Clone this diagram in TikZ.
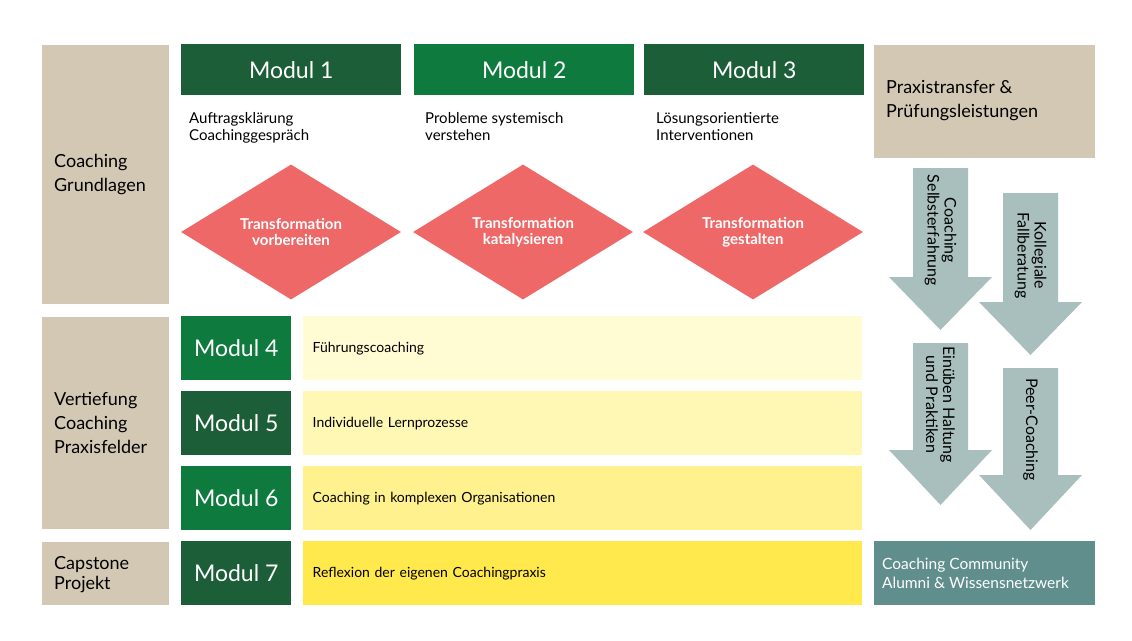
\documentclass[tikz,border=0pt]{standalone}
\usepackage{fontspec}
\setmainfont{Lato}
\usetikzlibrary{positioning,shapes.geometric}
\definecolor{beige}{HTML}{D3C8B3}
\definecolor{darkgreen}{HTML}{1B5E38}
\definecolor{midgreen}{HTML}{0E7A3E}
\definecolor{salmon}{HTML}{EE6868}
\definecolor{arrowgray}{HTML}{A9BFBE}
\definecolor{teal}{HTML}{5F8E8C}
\definecolor{yelA}{HTML}{FFFBD2}
\definecolor{yelB}{HTML}{FFF8B4}
\definecolor{yelC}{HTML}{FFF28E}
\definecolor{yelD}{HTML}{FFE94C}
\tikzset{
  side/.style = {fill = beige, anchor = north west, inner sep = 0pt, text width = 12pt},
  modhead/.style = {anchor = north west, minimum width = 220pt, minimum height = 51pt,
    text = white, font = \fontsize{23}{26}\selectfont, inner xsep = 12pt, align = left},
  modbox/.style = {anchor = north west, minimum width = 110pt, minimum height = 64pt,
    text = white, font = \fontsize{23}{26}\selectfont},
  bar/.style = {anchor = north west, minimum width = 559pt, minimum height = 64pt,
    font = \fontsize{14}{16}\selectfont, text width = 540pt, align = left},
  subtitle/.style = {anchor = north west, font = \fontsize{15}{17}\selectfont, align = left, inner sep = 0pt},
  trafo/.style = {diamond, fill = salmon, minimum width = 220pt, minimum height = 135pt, aspect = 1.63,
    inner sep = 0pt, text = white, font = \bfseries\fontsize{15}{16}\selectfont, align = center},
  arrowtext/.style = {rotate = -90, font = \fontsize{16}{17}\selectfont, align = center}
}
% arrow pointing down: x left of shaft, top y, head start y, tip y
\newcommand{\downarrowbox}[5]{%
  \fill[arrowgray] (#1, #2) -- (#1+55, #2) -- (#1+55, #3) -- (#1+79, #3) -- (#1+27.5, #4)
    -- (#1-24, #3) -- (#1, #3) -- cycle;
  \node[arrowtext] at (#1+27.5, {(#2+#3)/2+8}) {#5};
}
\begin{document}
\begin{tikzpicture}[x = 1pt, y = -1pt]
  \useasboundingbox (0, 0) rectangle (1132, 640);

  % Left column
  \fill[beige] (42, 45) rectangle (169, 304);
  \fill[beige] (42, 317) rectangle (169, 529);
  \fill[beige] (42, 542) rectangle (169, 605);
  \node[subtitle, anchor = west, font = \fontsize{18}{24}\selectfont] (grund) at (54, 175) {Coaching\\Grundlagen};
  \node[subtitle, anchor = west, font = \fontsize{18}{24}\selectfont] (vert) at (54, 423) {Vertiefung\\Coaching\\Praxisfelder};
  \node[subtitle, anchor = west, font = \fontsize{18}{20}\selectfont] (cap) at (54, 575) {Capstone\\Projekt};

  % Top modules
  \node[modhead, fill = darkgreen] (m1) at (181, 44) {Modul 1};
  \node[modhead, fill = midgreen] (m2) at (414, 44) {Modul 2};
  \node[modhead, fill = darkgreen] (m3) at (644, 44) {Modul 3};
  \node[subtitle] (s1) at (189, 112) {Auftragsklärung\\Coachinggespräch};
  \node[subtitle] (s2) at (425, 112) {Probleme systemisch\\verstehen};
  \node[subtitle] (s3) at (656, 112) {Lösungsorientierte\\Interventionen};
  \node[trafo] (t1) at (291, 232) {Transformation\\vorbereiten};
  \node[trafo] (t2) at (523, 232) {Transformation\\katalysieren};
  \node[trafo] (t3) at (753, 232) {Transformation\\gestalten};

  % Lower modules
  \node[modbox, fill = midgreen] (m4) at (181, 316) {Modul 4};
  \node[modbox, fill = darkgreen] (m5) at (181, 391) {Modul 5};
  \node[modbox, fill = midgreen] (m6) at (181, 466) {Modul 6};
  \node[modbox, fill = darkgreen] (m7) at (181, 541) {Modul 7};
  \node[bar, fill = yelA] (b4) at (303, 316) {Führungscoaching};
  \node[bar, fill = yelB] (b5) at (303, 391) {Individuelle Lernprozesse};
  \node[bar, fill = yelC] (b6) at (303, 466) {Coaching in komplexen Organisationen};
  \node[bar, fill = yelD] (b7) at (303, 541) {Reflexion der eigenen Coachingpraxis};

  % Right column
  \node[anchor = north west, fill = beige, minimum width = 221pt, minimum height = 113pt] (praxis) at (874, 45) {};
  \node[subtitle, font = \fontsize{18}{24}\selectfont, anchor = west] (praxistext) at (886, 101) {Praxistransfer \&\\Prüfungsleistungen};
  \node[anchor = north west, fill = teal, minimum width = 221pt, minimum height = 64pt] (alumni) at (874, 541) {};
  \node[subtitle, text = white, font = \fontsize{15.5}{19}\selectfont, anchor = west] (alumnitext) at (882, 573) {Coaching Community\\Alumni \& Wissensnetzwerk};

  \downarrowbox{913}{168}{277}{330}{Coaching\\Selbsterfahrung}
  \downarrowbox{1003}{193}{302}{355}{Kollegiale\\Fallberatung}
  \downarrowbox{913}{343}{450}{505}{Einüben Haltung\\und Praktiken}
  \downarrowbox{1003}{368}{475}{530}{Peer-Coaching}
\end{tikzpicture}
\end{document}
